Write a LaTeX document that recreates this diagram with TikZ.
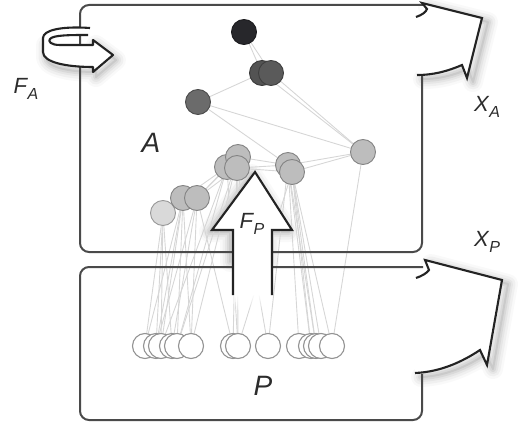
\documentclass[tikz,border=0pt]{standalone}
\usepackage{fontspec}
\setmainfont{Liberation Sans}
\usetikzlibrary{fadings}
\definecolor{boxc}{HTML}{4A4A4A}
\definecolor{arrc}{HTML}{232323}
\definecolor{edgec}{HTML}{D6D6D6}
\definecolor{txt}{HTML}{2C2C2C}
\definecolor{cA}{HTML}{27272B}
\definecolor{cB}{HTML}{535353}
\definecolor{cC}{HTML}{5A5A5A}
\definecolor{cD}{HTML}{6B6B6B}
\definecolor{cE}{HTML}{BDBDBD}
\definecolor{cF}{HTML}{D9D9D9}
\tikzfading[name=fadedown, top color=transparent!0, bottom color=transparent!100]
\pgfdeclarelayer{bg}
\pgfdeclarelayer{edges}
\pgfsetlayers{bg,edges,main}
\newcommand\sublbl[2]{#1\kern0.5pt\raisebox{-0.3em}{\fontsize{16}{16}\selectfont #2}}
\newcommand\glowpath[2]{%
  \foreach \w/\o in {20/0.025,15/0.035,10/0.045,6/0.055,2/0.07}{%
    \draw[shift={#1}, line width=\w pt, draw=black, opacity=\o, line join=round, line cap=round] #2;}}
\begin{document}
\begin{tikzpicture}[x=1pt,y=-1pt,
  boxline/.style={draw=boxc, line width=2pt, line join=round},
  arrline/.style={draw=arrc, line width=2.1pt, line join=miter},
  edge/.style={draw=edgec, line width=0.9pt},
  anode/.style={circle, minimum size=25pt, inner sep=0pt, draw=#1!70!black, fill=#1, line width=0.9pt},
  pnode/.style={circle, minimum size=25pt, inner sep=0pt, draw=gray!85, fill=white, line width=1.1pt},
  lbl/.style={text=txt, font=\itshape, inner sep=0pt},
]
\useasboundingbox (0,0) rectangle (525,425);

% ---------- shadows ----------
\begin{pgfonlayer}{bg}
  \glowpath{(6,4)}{(422,3) -- (482,18) -- (467,78) -- (462,65) .. controls (448,71) and (434,75) .. (417,75)}
  \fill[white] (420,5) -- (422,3) -- (482,18) -- (467,78) -- (462,65) .. controls (448,71) and (434,75) .. (417,75) -- cycle;
  \glowpath{(6,4)}{(425,260) -- (502,280) -- (487,365) -- (480,350) .. controls (462,362) and (440,372) .. (415,373)}
  \fill[white] (420,267) -- (425,260) -- (502,280) -- (487,365) -- (480,350) .. controls (462,362) and (440,372) .. (415,373) -- cycle;
  \glowpath{(3,5)}{(43,40) -- (43,52) .. controls (43,62) and (65,67) .. (93,67) -- (93,72) -- (113,55) -- (93,40)}
  \glowpath{(-3,2)}{(233,260) -- (233,230) -- (212,230) -- (255,172) -- (292,230) -- (272,230) -- (272,260)}
\end{pgfonlayer}

% ---------- boxes ----------
\draw[boxline, rounded corners=9pt] (422,76) -- (422,252) -- (80,252) -- (80,5) -- (423,5);
\draw[arrline] (416,17) .. controls (422,15) and (426,12) .. (427,9) -- (422,3) -- (482,18) -- (467,78) -- (462,65) .. controls (448,71) and (434,75) .. (417,75);
\draw[boxline, rounded corners=9pt] (422,374) -- (422,420) -- (80,420) -- (80,267) -- (423,267);
\draw[arrline] (416,278) .. controls (422,276) and (427,273) .. (429,270) -- (425,260) -- (502,280) -- (487,365) -- (480,350) .. controls (462,362) and (440,372) .. (415,373);

% ---------- F_P arrow ----------
\fill[white] (233,295) -- (233,230) -- (212,230) -- (255,172) -- (292,230) -- (272,230) -- (272,295) -- cycle;
\fill[white, path fading=fadedown] (234,294) rectangle (271,310);
\draw[arrline] (233,295) -- (233,230) -- (212,230) -- (255,172) -- (292,230) -- (272,230) -- (272,295);

% ---------- F_A rotation arrow ----------
\fill[white] (90,28) .. controls (62,26) and (43,30) .. (43,38) -- (43,52) .. controls (43,62) and (65,67) .. (93,67)
  -- (93,72) -- (113,55) -- (93,40) -- (93,45) -- (60,45) .. controls (50,45) and (48,41) .. (50,39)
  .. controls (53,35) and (70,35) .. (88,35) -- cycle;
\draw[boxline] (80,36) -- (80,45);
\draw[arrline, line join=round] (90,28) .. controls (62,26) and (43,30) .. (43,38) -- (43,52) .. controls (43,62) and (65,67) .. (93,67)
  -- (93,72) -- (113,55) -- (93,40) -- (93,45) -- (60,45) .. controls (50,45) and (48,41) .. (50,39)
  .. controls (53,35) and (70,35) .. (88,35);

% ---------- P nodes ----------
\foreach \i/\x in {1/145,2/156,3/161,4/172,5/177,6/191,7/233,8/238,9/268,10/299,11/311,12/316,13/321,14/332}{
  \node[pnode] (p\i) at (\x,346) {};
}

% ---------- A nodes ----------
\node[anode=cF] (n13) at (163,213) {};
\node[anode=cE] (n11) at (183,198) {};
\node[anode=cE] (n12) at (197,198) {};
\node[anode=cE] (n6) at (227,167) {};
\node[anode=cE] (n7) at (238,157) {};
\node[anode=cE] (n8) at (237,168) {};
\node[anode=cE] (n9) at (288,165) {};
\node[anode=cE] (n10) at (292,172) {};
\node[anode=cE] (n5) at (363,152) {};
\node[anode=cD] (n4) at (198,102) {};
\node[anode=cB] (n2) at (262,73) {};
\node[anode=cC] (n3) at (271,73) {};
\node[anode=cA] (n1) at (244,32) {};

% ---------- edges ----------
\begin{pgfonlayer}{edges}
  \foreach \a/\b in {n1/n2,n1/n3,n2/n4,n3/n5,n2/n5,n4/n5,n4/n9,n5/n9,n5/n10,n7/n9,n8/n9,n8/n10,
      n6/n11,n6/n12,n7/n12,n8/n12,n11/n13,
      n13/p1,n13/p2,n13/p3,n13/p4,
      n11/p1,n11/p2,n11/p3,n11/p5,n11/p6,
      n12/p2,n12/p4,n12/p6,n12/p7,
      n6/p3,n6/p5,n6/p8,
      n7/p5,n7/p6,
      n8/p7,n8/p8,n8/p9,
      n9/p9,n9/p10,n9/p11,n9/p12,
      n10/p11,n10/p12,n10/p13,n10/p14,n10/p8,
      n5/p14}{
    \draw[edge] (\a.center) -- (\b.center);
  }
\end{pgfonlayer}

% ---------- labels ----------
\node[lbl, font=\itshape\fontsize{22}{22}\selectfont] (lFA) at (26,89) {\sublbl{F}{A}};
\node[lbl, font=\itshape\fontsize{22}{22}\selectfont] (lXA) at (487,107) {\sublbl{X}{A}};
\node[lbl, font=\itshape\fontsize{22}{22}\selectfont] (lXP) at (487,242) {\sublbl{X}{P}};
\node[lbl, font=\itshape\fontsize{22}{22}\selectfont] (lFP) at (252,224) {\sublbl{F}{P}};
\node[lbl, font=\itshape\fontsize{28}{28}\selectfont] (lA) at (151,143) {A};
\node[lbl, font=\itshape\fontsize{28}{28}\selectfont] (lP) at (263,386) {P};
\end{tikzpicture}
\end{document}
